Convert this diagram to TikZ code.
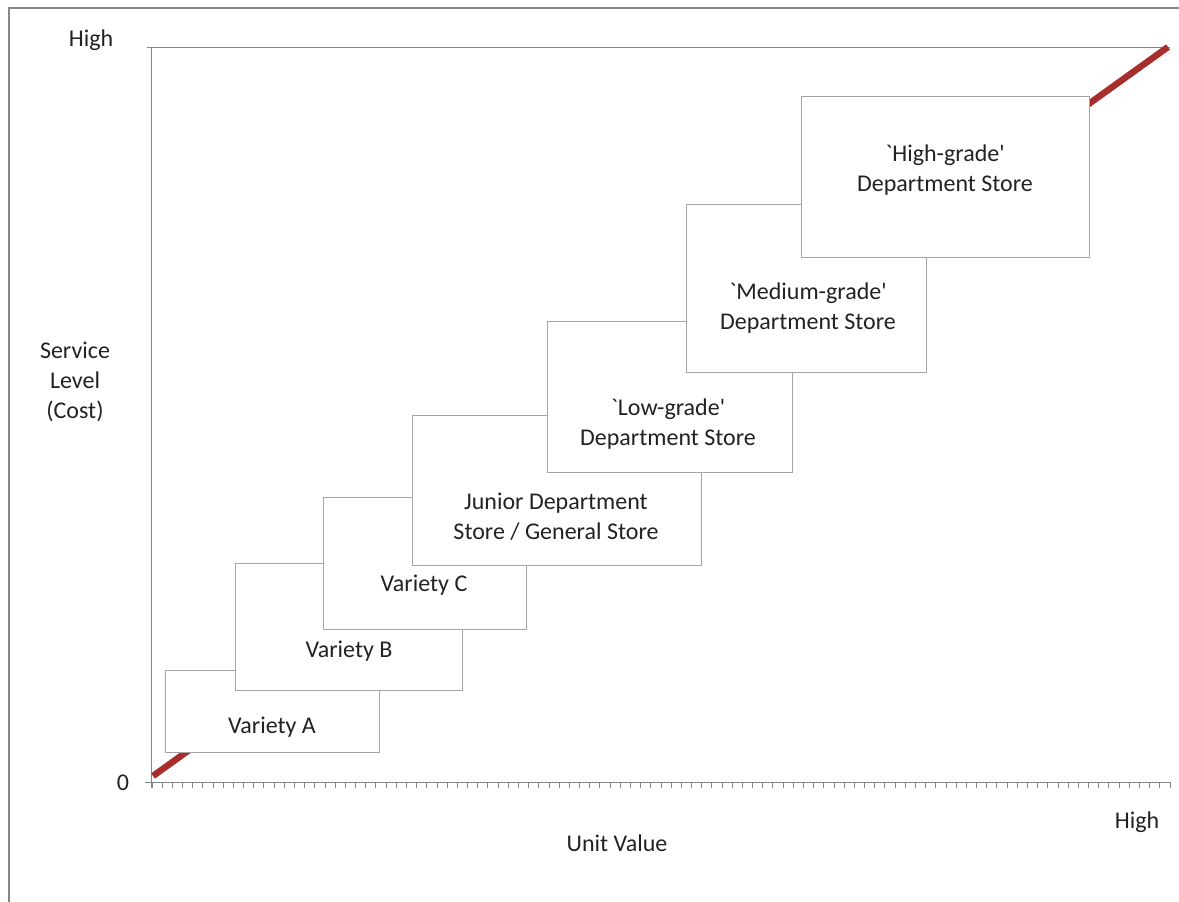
\documentclass[tikz,border=0pt]{standalone}
\usepackage{fontspec}
\newfontfamily\chartfont{Carlito}

\definecolor{trend}{RGB}{168,46,46}
\definecolor{boxgray}{RGB}{165,165,165}
\definecolor{axisgray}{RGB}{134,134,134}
\definecolor{ink}{RGB}{34,34,34}

\begin{document}
\begin{tikzpicture}
      [%%%%%%%%%%%%%%%%%%%%%%%%%%%%%%
      x=1pt,y=-1pt,
      box/.style={rectangle,draw=boxgray,line width=0.9pt,fill=white,inner sep=0pt},
      lbl/.style={font=\chartfont\fontsize{24}{30}\selectfont,text=ink,align=center,inner sep=0pt},
      axis/.style={draw=axisgray,line width=1pt},
      trendline/.style={draw=trend,line width=6.5pt},
      ]%%%%%%%%%%%%%%%%%%%%%%%%%%%%%%

      \useasboundingbox (0,0) rectangle (1179,902);
      \draw[axisgray,line width=1.2pt] (9,902) -- (9,8) -- (1179,8);

      % axes
      \coordinate (ytop) at (151,47);
      \coordinate (ybot) at (151,788);
      \coordinate (xbeg) at (145,782);
      \coordinate (xend) at (1170,782);
      \coordinate (gbeg) at (147,47);
      \coordinate (gend) at (1170,47);
      \draw[axis] (gbeg) -- (gend);
      \draw[axis] (ytop) -- (ybot);
      \draw[axis] (xbeg) -- (xend);
      \foreach \i in {0,1,...,100}{
        \draw[axis] (152+\i*10.18,782) -- (152+\i*10.18,788);
      }

      \node[lbl] (yhigh) at (91,40) {High};
      \node[lbl] (zero) at (123,783) {0};
      \node[lbl] (xhigh) at (1137,822) {High};
      \node[lbl] (xlabel) at (617,843) {Unit Value};
      \node[lbl] (ylabel) at (75,382) {Service\\Level\\(Cost)};

      % trend
      \coordinate (lo) at (153,776);
      \coordinate (hi) at (1168,47);
      \draw[trendline] (lo) -- (hi);

      % store types
      \node[box,minimum width=214pt,minimum height=82pt ] (varA) at (272,711){};
      \node[lbl] (txtA) at (272,727){Variety A};
      \node[box,minimum width=227pt,minimum height=127pt] (varB) at (349,626.5){};
      \node[lbl] (txtB) at (349,651){Variety B};
      \node[box,minimum width=203pt,minimum height=132pt] (varC) at (424.5,563){};
      \node[lbl] (txtC) at (424,585){Variety C};
      \node[box,minimum width=289pt,minimum height=150pt] (junior) at (556.5,490){};
      \node[lbl] (txtJ) at (556,517){Junior Department\\Store / General Store};
      \node[box,minimum width=245pt,minimum height=151pt] (low) at (669.5,396.5){};
      \node[lbl] (txtL) at (668,424){`Low-grade'\\Department Store};
      \node[box,minimum width=240pt,minimum height=168pt] (medium) at (806,288){};
      \node[lbl] (txtM) at (808,308){`Medium-grade'\\Department Store};
      \node[box,minimum width=288pt,minimum height=161pt] (high) at (945,176.5){};
      \node[lbl] (txtH) at (945,170){`High-grade'\\Department Store};
    \end{tikzpicture}
\end{document}
